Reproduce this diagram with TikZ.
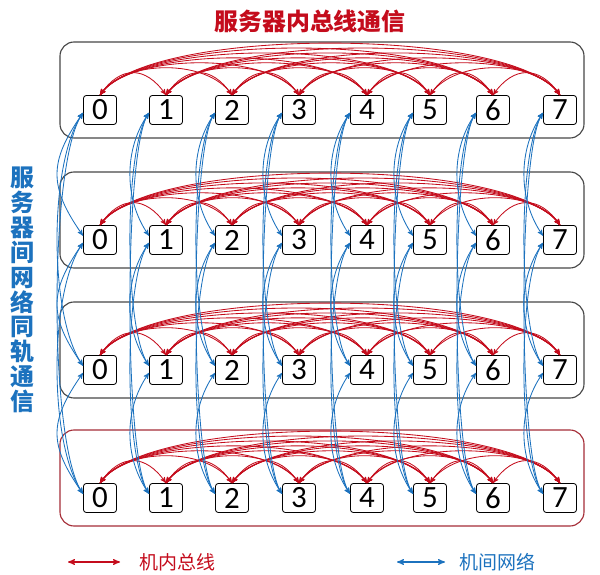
\documentclass[tikz,border=0pt]{standalone}
\usepackage{fontspec}
\usepackage{tikz}
\usetikzlibrary{arrows,positioning,calc}
\newfontfamily\cjk{Noto Sans CJK SC}
\newfontfamily\digits{Carlito}
\definecolor{busred}{RGB}{196,12,28}
\definecolor{netblue}{RGB}{28,114,190}
\definecolor{boxgray}{RGB}{70,70,70}
\definecolor{boxred}{RGB}{165,45,55}

\begin{document}
\begin{tikzpicture}[x=0.025cm, y=0.025cm, >=stealth', semithick]
\tikzstyle{gpu}=[draw=black, fill=white, rounded corners=2pt, minimum width=0.825cm, minimum height=0.725cm, inner sep=0pt, font=\digits\fontsize{22}{22}\selectfont]
\tikzstyle{server}=[thick, rounded corners=10pt]
\tikzstyle{bus}=[<->, busred, line width=0.6pt]
\tikzstyle{net}=[<->, netblue, line width=0.6pt]
\useasboundingbox (0,0) rectangle (600,574);

\node[font=\cjk\bfseries\fontsize{17}{17}\selectfont, text=busred] (title) at (310,553) {服务器内总线通信};
\node[font=\cjk\bfseries\fontsize{17}{17.7}\selectfont, text=netblue, align=center] (side) at (22,284)
  {服\\务\\器\\间\\网\\络\\同\\轨\\通\\信};

% servers and gpus
\foreach \r/\y/\c in {1/464/boxgray, 2/334/boxgray, 3/204/boxgray, 4/76/boxred}{
  \draw[server, draw=\c] (60,\y-28) rectangle (584,\y+68);
  \foreach \i/\x in {0/100,1/166,2/232,3/299,4/367,5/430,6/493,7/560}
    \node[gpu] (n\r\i) at (\x,\y) {\i};
}

% bus inside a server
\foreach \r in {1,...,4}
  \foreach \i in {0,...,6}{
    \pgfmathtruncatemacro\k{\i+1}
    \foreach \j in {\k,...,7}{
      \pgfmathsetmacro\d{0.7+0.2*(\j-\i)}
      \draw[bus] (n\r\i.north) to[out=55,in=125,distance=\d cm] (n\r\j.north);
    }
  }

% network between servers, same rail
\foreach \i in {0,...,7}{
  \pgfmathsetmacro\b{\i==0 ? 1.5 : 1.1}
  \foreach \r in {1,...,3}{
    \pgfmathtruncatemacro\k{\r+1}
    \foreach \s in {\k,...,4}
      \draw[net] ([yshift=-2pt]n\r\i.west) to[out=235,in=125,distance=\b cm] ([yshift=3pt]n\s\i.west);
  }
}

% legend
\coordinate (busL) at (68,12);
\coordinate (busR) at (120,12);
\coordinate (netL) at (397,12);
\coordinate (netR) at (445,12);
\draw[<->, busred, thick] (busL) -- (busR);
\draw[<->, netblue, thick] (netL) -- (netR);
\node[anchor=west, font=\cjk\fontsize{13.5}{13.5}\selectfont, text=busred] (busText) at (134,12) {机内总线};
\node[anchor=west, font=\cjk\fontsize{13.5}{13.5}\selectfont, text=netblue] (netText) at (454,12) {机间网络};
\end{tikzpicture}
\end{document}
